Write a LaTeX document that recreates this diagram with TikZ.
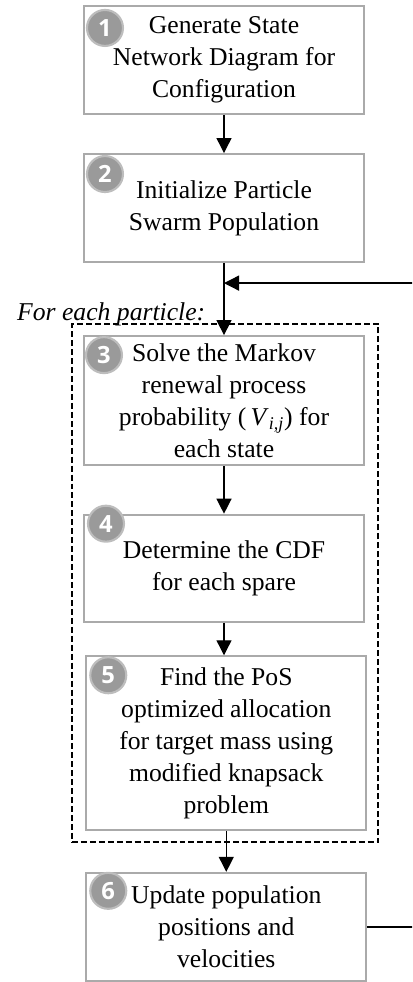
\documentclass[tikz,border=0pt]{standalone}
\usepackage{fontspec}
\setmainfont{Liberation Serif}
\newfontfamily\numfont{Open Sans}
\usepackage{tikz}
\usetikzlibrary{positioning, arrows.meta, fit, calc}

\definecolor{boxgray}{HTML}{AAAAAA}
\definecolor{circgray}{HTML}{9A9A9A}
\definecolor{circedge}{HTML}{BDBDBD}

\begin{document}
\begin{tikzpicture}[
        x=0.02cm, y=-0.02cm,
        >={Triangle[length=0.3cm, width=0.3cm]},
        % Styles
        stepbox/.style={rectangle, draw=boxgray, line width=1.2pt, fill=white,
                minimum width=5.6cm, align=center,
                font=\fontsize{14.6}{18.2}\selectfont},
        numcirc/.style={circle, fill=circgray, draw=circedge, line width=1.2pt,
                minimum size=0.72cm, inner sep=0pt, text=white,
                font=\numfont\bfseries\fontsize{13.5}{13.5}\selectfont},
        loopbox/.style={rectangle, draw, line width=1.2pt,
                dash pattern=on 3.4pt off 1.7pt},
        arrow/.style={->, line width=0.75pt, black},
        looplab/.style={font=\itshape\fontsize{14.6}{18.2}\selectfont, anchor=base west},
    ]

        \clip (0,0) rectangle (412,982);

        % === STEPS ===
        \node[stepbox, minimum height=2.16cm] (s1) at (224,60)
            {Generate State\\Network Diagram for\\Configuration};
        \node[stepbox, minimum height=2.16cm, below=0.76cm of s1] (s2)
            {Initialize Particle\\Swarm Population};
        \node[stepbox, minimum height=2.58cm, below=1.44cm of s2] (s3)
            {Solve the Markov\\renewal process\\probability (\,\textit{V}\textsubscript{\textit{i,j}}) for\\each state};
        \node[stepbox, minimum height=2.14cm, below=0.95cm of s3] (s4)
            {Determine the CDF\\for each spare};
        \node[stepbox, minimum height=3.48cm, below=0.65cm of s4, xshift=1.3] (s5)
            {Find the PoS\\optimized allocation\\for target mass using\\modified knapsack\\problem};
        \node[stepbox, minimum height=2.16cm, below=0.81cm of s5] (s6)
            {Update population\\positions and\\velocities};

        % === NUMBERS ===
        \node[numcirc] (n1) at ($(s1.north west)+(22,23)$) {1};
        \node[numcirc] (n2) at ($(s2.north west)+(22,21)$) {2};
        \node[numcirc] (n3) at ($(s3.north west)+(21,20)$) {3};
        \node[numcirc] (n4) at ($(s4.north west)+(23,10)$) {4};
        \node[numcirc] (n5) at ($(s5.north west)+(23,20)$) {5};
        \node[numcirc] (n6) at ($(s6.north west)+(23,19)$) {6};

        % Loop over particles
        \node[loopbox, fit=(s3)(s4)(s5), inner sep=0.22cm] (loop) {};
        \node[looplab] (forlab) at (11,321) {For each particle:};

        % Connections
        \draw[arrow] (s1) -- (s2);
        \draw[arrow] (s2) -- (s3);
        \draw[arrow] (s3) -- (s4);
        \draw[arrow] (s4.south) -- (s4.south |- s5.north);
        \draw[arrow] (s5.south) -- (s5.south |- s6.north);

        % Feedback (runs past the right edge)
        \coordinate (join) at ($(s2.south)+(0,20)$);
        \coordinate (fbright) at (430,0);
        \draw[arrow] (s6.east) -- (s6.east -| fbright) |- (join);

    \end{tikzpicture}
\end{document}
